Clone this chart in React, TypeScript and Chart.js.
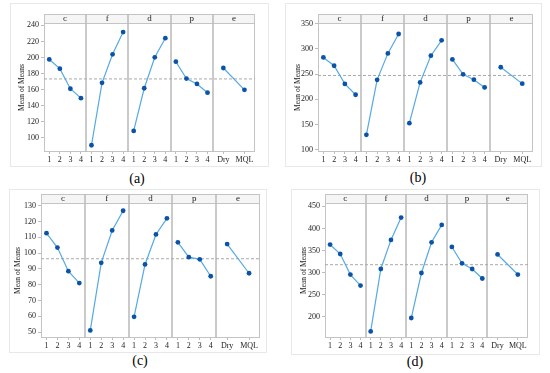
import React, { useEffect, useRef } from 'react';
import { Chart, registerables } from 'chart.js';
Chart.register(...registerables);

const SERIF = '"Liberation Serif", "Times New Roman", serif';

// Shared labels
const factorNames = ['c', 'f', 'd', 'p', 'e'];
const levelLabels = ['1', '2', '3', '4'];
const envLabels = ['Dry', 'MQL'];
const yTitle = 'Mean of Means';

// Panel (a)
const cA = [197.6, 186.2, 161.2, 149.5];
const fA = [91, 168.6, 204, 231.6];
const dA = [108.8, 161.8, 200.3, 224];
const pA = [194.8, 173.8, 167.2, 156.3];
const eA = [187, 159.8];
const meanA = 173.4;
const ticksA = [100, 120, 140, 160, 180, 200, 220, 240];

// Panel (b)
const cB = [283, 266.5, 230.5, 209];
const fB = [129.5, 238.5, 291, 329.5];
const dB = [152.5, 233.5, 286.5, 317];
const pB = [279, 249.5, 238.8, 223.5];
const eB = [263.5, 231];
const meanB = 247.2;
const ticksB = [100, 150, 200, 250, 300, 350];

// Panel (c)
const cC = [112.6, 103.5, 88.5, 81];
const fC = [51, 93.8, 114.3, 126.8];
const dC = [59.6, 92.8, 111.8, 122];
const pC = [106.8, 97.4, 96, 85.3];
const eC = [105.7, 87.2];
const meanC = 96.4;
const ticksC = [50, 60, 70, 80, 90, 100, 110, 120, 130];

// Panel (d)
const cD = [363.5, 342, 295.5, 270.5];
const fD = [166.5, 308, 374, 424.5];
const dD = [197, 299, 368.5, 408];
const pD = [358, 321, 308, 286.5];
const eD = [341, 295.5];
const meanD = 317.8;
const ticksD = [200, 250, 300, 350, 400, 450];

const panels = [
  { caption: '(a)', series: [cA, fA, dA, pA, eA], mean: meanA, yTicks: ticksA, yMin: 82.6, yMax: 242.9,
    lay: { CL: 18, L: 44, R: 255, S: 14, T: 23, B: 152 }, frame: { x: 10, y: 3, w: 259, h: 164 }, cap: { x: 137, y: 179 } },
  { caption: '(b)', series: [cB, fB, dB, pB, eB], mean: meanB, yTicks: ticksB, yMin: 95.4, yMax: 351.3,
    lay: { CL: 294, L: 318, R: 533, S: 14, T: 23, B: 152 }, frame: { x: 285, y: 3, w: 257, h: 164 }, cap: { x: 418, y: 178 } },
  { caption: '(c)', series: [cC, fC, dC, pC, eC], mean: meanC, yTicks: ticksC, yMin: 46.2, yMax: 131.7,
    lay: { CL: 14, L: 41, R: 260, S: 194, T: 203, B: 338 }, frame: { x: 9, y: 189, w: 258, h: 164 }, cap: { x: 140, y: 361 } },
  { caption: '(d)', series: [cD, fD, dD, pD, eD], mean: meanD, yTicks: ticksD, yMin: 151.7, yMax: 457.6,
    lay: { CL: 300, L: 325, R: 528, S: 194, T: 203, B: 338 }, frame: { x: 291, y: 189, w: 249, h: 166 }, cap: { x: 415, y: 362 } },
];

const facetPlugin = {
  id: 'facet',
  beforeDatasetsDraw(chart: any, _args: any, opts: any) {
    const { ctx, chartArea: a, scales } = chart;
    const x = scales.x;
    const stripH = opts.stripH;
    const top = a.top - stripH;
    ctx.save();
    ctx.fillStyle = '#f5f5f5';
    ctx.fillRect(a.left, top, a.right - a.left, stripH);
    ctx.strokeStyle = '#c4c4c4';
    ctx.lineWidth = 1;
    ctx.strokeRect(a.left + 0.5, top + 0.5, a.right - a.left - 1, a.bottom - top - 1);
    ctx.beginPath();
    ctx.moveTo(a.left, Math.round(a.top) + 0.5);
    ctx.lineTo(a.right, Math.round(a.top) + 0.5);
    ctx.stroke();
    ctx.lineWidth = 1.6;
    ctx.strokeStyle = '#bdbdbd';
    for (let k = 1; k < factorNames.length; k++) {
      const px = Math.round(x.getPixelForValue(k));
      ctx.beginPath();
      ctx.moveTo(px, top);
      ctx.lineTo(px, a.bottom);
      ctx.stroke();
    }
    ctx.fillStyle = '#222';
    ctx.font = `9px ${SERIF}`;
    ctx.textAlign = 'center';
    ctx.textBaseline = 'middle';
    factorNames.forEach((n, k) => {
      const cx = (x.getPixelForValue(k) + x.getPixelForValue(k + 1)) / 2;
      ctx.fillText(n, cx, top + stripH / 2 + 0.5);
    });
    ctx.restore();
  },
};

function Panel({ p }: { p: any }) {
  const ref = useRef<HTMLCanvasElement>(null);
  const { CL, L, R, S, T, B } = p.lay;
  const canvasTop = S - 1;
  const padTop = T - canvasTop;
  const padRight = 10;
  const xH = 13;
  const width = R + padRight - CL;
  const height = B + xH - canvasTop;

  useEffect(() => {
    const tickPos: number[] = [];
    const tickLab: string[] = [];
    const datasets: any[] = [];
    datasets.push({
      data: [{ x: 0, y: p.mean }, { x: factorNames.length, y: p.mean }],
      borderColor: '#a9a9a9', borderWidth: 1, borderDash: [3, 2], pointRadius: 0, order: 2,
    });
    p.series.forEach((vals: number[], i: number) => {
      const n = vals.length;
      const labs = n === 2 ? envLabels : levelLabels;
      vals.forEach((_v, j) => { tickPos.push(i + (j + 0.5) / n); tickLab.push(labs[j]); });
      datasets.push({
        data: vals.map((v, j) => ({ x: i + (j + 0.5) / n, y: v })),
        borderColor: '#55a9e4', borderWidth: 1.2,
        pointRadius: 2.4, pointBackgroundColor: '#0a53a8', pointBorderColor: '#0a53a8', pointBorderWidth: 0,
        order: 1,
      });
    });
    const chart = new Chart(ref.current as HTMLCanvasElement, {
      type: 'line',
      data: { datasets },
      plugins: [facetPlugin],
      options: {
        responsive: false,
        animation: false,
        devicePixelRatio: 1,
        layout: { padding: { left: 0, right: padRight, top: padTop, bottom: 0 } },
        plugins: { legend: { display: false }, tooltip: { enabled: false }, facet: { stripH: T - S } } as any,
        scales: {
          x: {
            type: 'linear', min: 0, max: factorNames.length,
            afterBuildTicks: (s: any) => { s.ticks = tickPos.map((v) => ({ value: v })); },
            afterFit: (s: any) => { s.height = xH; },
            ticks: { autoSkip: false, maxRotation: 0, padding: 1, color: '#222', font: { size: 8, family: SERIF },
              callback: (_v: any, i: number) => tickLab[i] },
            grid: { drawOnChartArea: false, drawTicks: true, tickLength: 2, color: '#bdbdbd' },
            border: { display: false },
          },
          y: {
            type: 'linear', min: p.yMin, max: p.yMax,
            afterBuildTicks: (s: any) => { s.ticks = p.yTicks.map((v: number) => ({ value: v })); },
            afterFit: (s: any) => { s.width = L - CL; },
            ticks: { padding: 2, color: '#222', font: { size: 8, family: SERIF }, callback: (v: any) => String(v) },
            grid: { drawOnChartArea: false, drawTicks: true, tickLength: 3, color: '#bdbdbd' },
            border: { display: false },
            title: { display: true, text: yTitle, color: '#222', padding: { top: 0, bottom: 0 }, font: { size: 7.5, family: SERIF } },
          },
        },
      } as any,
    });
    return () => chart.destroy();
  }, []);

  return (
    <canvas ref={ref} width={width} height={height}
      style={{ position: 'absolute', left: CL, top: canvasTop, width, height }} />
  );
}

export default function App() {
  return (
    <div style={{ position: 'absolute', left: 0, top: 0, width: 550, height: 373, background: '#fff', overflow: 'hidden' }}>
      {panels.map((p, i) => (
        <React.Fragment key={i}>
          <div style={{ position: 'absolute', left: p.frame.x, top: p.frame.y, width: p.frame.w, height: p.frame.h,
            border: '1px solid #e8e8e8', boxSizing: 'border-box' }} />
          <Panel p={p} />
          <div style={{ position: 'absolute', left: p.cap.x - 30, top: p.cap.y - 9, width: 60, textAlign: 'center',
            fontFamily: SERIF, fontSize: 14, lineHeight: '18px', color: '#000' }}>{p.caption}</div>
        </React.Fragment>
      ))}
    </div>
  );
}
